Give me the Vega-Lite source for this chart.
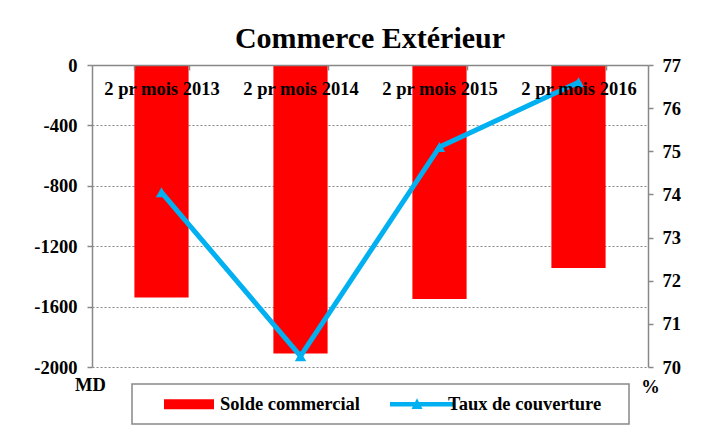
{
  "$schema": "https://vega.github.io/schema/vega-lite/v6.json",
  "width": 556,
  "height": 302,
  "autosize": {"type": "none"},
  "padding": {"left": 92, "top": 65, "right": 60, "bottom": 63},
  "background": "white",
  "config": {
    "view": {"stroke": null},
    "font": "Liberation Serif",
    "axis": {"labelFont": "Liberation Serif", "titleFont": "Liberation Serif"},
    "legend": {"labelFont": "Liberation Serif"}
  },
  "title": {
    "text": "Commerce Extérieur",
    "font": "Liberation Serif",
    "fontSize": 30,
    "fontWeight": "bold",
    "color": "black",
    "anchor": "middle",
    "baseline": "alphabetic",
    "offset": -22
  },
  "data": {
    "values": [
      {"periode": "2 pr mois 2013", "solde": -1540, "taux": 74.05},
      {"periode": "2 pr mois 2014", "solde": -1910, "taux": 70.25},
      {"periode": "2 pr mois 2015", "solde": -1550, "taux": 75.1},
      {"periode": "2 pr mois 2016", "solde": -1345, "taux": 76.6}
    ]
  },
  "encoding": {
    "x": {
      "field": "periode",
      "type": "nominal",
      "sort": null,
      "scale": {"paddingInner": 0.61, "paddingOuter": 0.305},
      "axis": {
        "orient": "top",
        "title": null,
        "labelAngle": 0,
        "labelFont": "Liberation Serif",
        "labelFontSize": 18.5,
        "labelFontWeight": "bold",
        "labelColor": "black",
        "labelBaseline": "alphabetic",
        "labelPadding": -24,
        "tickSize": -5,
        "tickBand": "extent",
        "tickColor": "#888888",
        "tickWidth": 1.5,
        "domainColor": "#888888",
        "domainWidth": 1.5,
        "grid": false,
        "zindex": 1
      }
    }
  },
  "layer": [
    {
      "mark": {"type": "bar"},
      "encoding": {
        "y": {
          "field": "solde",
          "type": "quantitative",
          "scale": {"domain": [-2000, 0], "nice": false},
          "axis": {
            "orient": "left",
            "values": [-2000, -1600, -1200, -800, -400, 0],
            "labelExpr": "'' + datum.value",
            "labelFont": "Liberation Serif",
            "labelFontSize": 18.5,
            "labelFontWeight": "bold",
            "labelColor": "black",
            "labelPadding": 10,
            "tickSize": 5,
            "tickColor": "#888888",
            "tickWidth": 1.5,
            "domainColor": "#888888",
            "domainWidth": 1.5,
            "grid": true,
            "gridColor": "#888888",
            "gridDash": [2, 2],
            "gridWidth": 1.2,
            "title": "MD",
            "titleAngle": 0,
            "titleX": -2,
            "titleY": 325,
            "titleAlign": "center",
            "titleBaseline": "alphabetic",
            "titleFont": "Liberation Serif",
            "titleFontSize": 18.5,
            "titleFontWeight": "bold",
            "titleColor": "black"
          }
        },
        "color": {
          "datum": "Solde commercial",
          "type": "nominal",
          "scale": {
            "domain": ["Solde commercial", "Taux de couverture"],
            "range": ["#FF0000", "#00B0F0"]
          },
          "legend": {
            "orient": "none",
            "legendX": 40,
            "legendY": 319,
            "direction": "horizontal",
            "title": null,
            "padding": 10,
            "strokeColor": "#888888",
            "symbolSize": 400,
            "labelOffset": 58,
            "columnPadding": 10,
            "labelFont": "Liberation Serif",
            "labelFontSize": 18.5,
            "labelFontWeight": "bold",
            "labelColor": "black",
            "labelLimit": 300,
            "encode": {
              "legend": {"update": {"strokeWidth": {"value": 1.5}}},
              "symbols": {
                "update": {
                  "shape": {"signal": "datum.value === 'Solde commercial' ? 'M-1,0M1.2,-0.5H6.2V0.5H1.2Z' : 'M23.9,0M-1,0M1,-0.22H7.4V0.22H1ZM3.15,0.48L3.7,-0.6L4.25,0.48Z'"},
                  "fill": {"signal": "datum.value === 'Solde commercial' ? '#FF0000' : '#00B0F0'"},
                  "stroke": {"value": "transparent"},
                  "strokeWidth": {"value": 0},
                  "opacity": {"value": 1},
                  "fillOpacity": {"value": 1},
                  "size": {"value": 400}
                }
              }
            }
          }
        }
      }
    },
    {
      "encoding": {
        "y": {
          "field": "taux",
          "type": "quantitative",
          "scale": {"domain": [70, 77], "nice": false, "zero": false},
          "axis": {
            "orient": "right",
            "values": [70, 71, 72, 73, 74, 75, 76, 77],
            "labelFont": "Liberation Serif",
            "labelFontSize": 18.5,
            "labelFontWeight": "bold",
            "labelColor": "black",
            "labelPadding": 9,
            "tickSize": 5,
            "tickColor": "#888888",
            "tickWidth": 1.5,
            "domainColor": "#888888",
            "domainWidth": 1.5,
            "grid": false,
            "title": "%",
            "titleAngle": 0,
            "titleX": 2,
            "titleY": 327,
            "titleAlign": "center",
            "titleBaseline": "alphabetic",
            "titleFont": "Liberation Serif",
            "titleFontSize": 18.5,
            "titleFontWeight": "bold",
            "titleColor": "black"
          }
        },
        "color": {"datum": "Taux de couverture", "type": "nominal"}
      },
      "layer": [
        {"mark": {"type": "line", "strokeWidth": 5}},
        {"mark": {"type": "point", "shape": "triangle-up", "filled": true, "size": 130, "opacity": 1}}
      ]
    }
  ],
  "resolve": {"scale": {"y": "independent"}}
}
